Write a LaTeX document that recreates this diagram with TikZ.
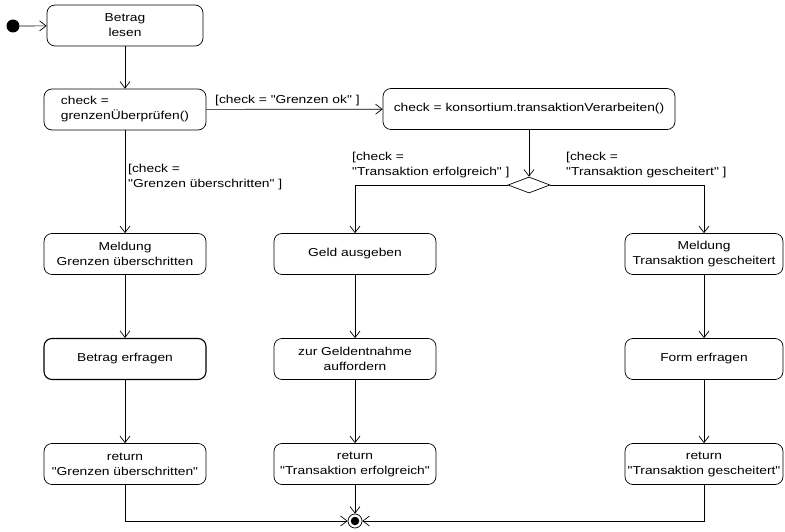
\documentclass[tikz,border=0pt]{standalone}
\usepackage{fontspec}
\setmainfont[FakeStretch=1.2, Ligatures=TeXOff]{Liberation Sans}
\usetikzlibrary{arrows.meta,shapes.geometric}
\begin{document}
\begin{tikzpicture}[x=1pt,y=-1pt,
  font=\fontsize{11.5}{15}\selectfont,
  act/.style={draw, rounded corners=8pt, minimum height=41pt, align=center,
              inner xsep=1pt, inner ysep=2pt, line width=0.7pt},
  flow/.style={draw, line width=0.7pt, -{Straight Barb[length=6.5pt,width=10pt]}},
  guard/.style={align=left, inner sep=0pt, anchor=north west},
]
\useasboundingbox (0,0) rectangle (785,532);

% initial and final states
\node[circle, fill, minimum size=13pt, inner sep=0pt] (start) at (13,26) {};
\node[circle, draw, line width=0.7pt, minimum size=14pt, inner sep=0pt] (end) at (355,521) {};
\node[circle, fill, minimum size=8.5pt, inner sep=0pt] (endDot) at (355,521) {};

% top part
\node[act, minimum width=156pt] (lesen) at (125,25.5) {Betrag\\lesen};
\node[act, minimum width=162pt, align=left] (check) at (125,109.5) {check =\\grenzenÜberprüfen()};
\node[act, minimum width=292pt] (kons) at (529,109) {check = konsortium.transaktionVerarbeiten()};
\node[draw, diamond, aspect=2.6, minimum width=42pt, minimum height=16pt,
      inner sep=0pt, line width=0.7pt] (dec) at (529,185) {};

% left column
\node[act, minimum width=162pt] (meldG) at (125,254) {Meldung\\Grenzen überschritten};
\node[act, minimum width=162pt, line width=1.1pt] (erfr) at (125,359) {Betrag erfragen};
\node[act, minimum width=162pt] (retG) at (125,464) {return\\"Grenzen überschritten"};

% middle column
\node[act, minimum width=162pt] (geld) at (355,254) {Geld ausgeben};
\node[act, minimum width=162pt] (zur) at (355,359) {zur Geldentnahme\\auffordern};
\node[act, minimum width=162pt] (retE) at (355,464) {return\\"Transaktion erfolgreich"};

% right column
\node[act, minimum width=158pt] (meldT) at (704,254) {Meldung\\Transaktion gescheitert};
\node[act, minimum width=158pt] (form) at (704,359) {Form erfragen};
\node[act, minimum width=158pt] (retT) at (704,464) {return\\"Transaktion gescheitert"};

% guards
\node[guard] (gOk) at (215,95) {[check = "Grenzen ok" ]};
\node[guard] (gOver) at (128,164) {[check =\\"Grenzen überschritten" ]};
\node[guard] (gSucc) at (352,152) {[check =\\"Transaktion erfolgreich" ]};
\node[guard] (gFail) at (566,152) {[check =\\"Transaktion gescheitert" ]};

% transitions
\draw[flow] (start) -- (lesen);
\draw[flow] (lesen) -- (check);
\draw[flow] (check) -- (kons);
\draw[flow] (kons) -- (dec);
\draw[flow] (dec) -| (geld);
\draw[flow] (dec) -| (meldT);
\draw[flow] (check) -- (meldG);
\draw[flow] (meldG) -- (erfr);
\draw[flow] (erfr) -- (retG);
\draw[flow] (geld) -- (zur);
\draw[flow] (zur) -- (retE);
\draw[flow] (meldT) -- (form);
\draw[flow] (form) -- (retT);
\draw[flow] (retG) |- (end);
\draw[flow] (retE) -- (end);
\draw[flow] (retT) |- (end);
\end{tikzpicture}
\end{document}
